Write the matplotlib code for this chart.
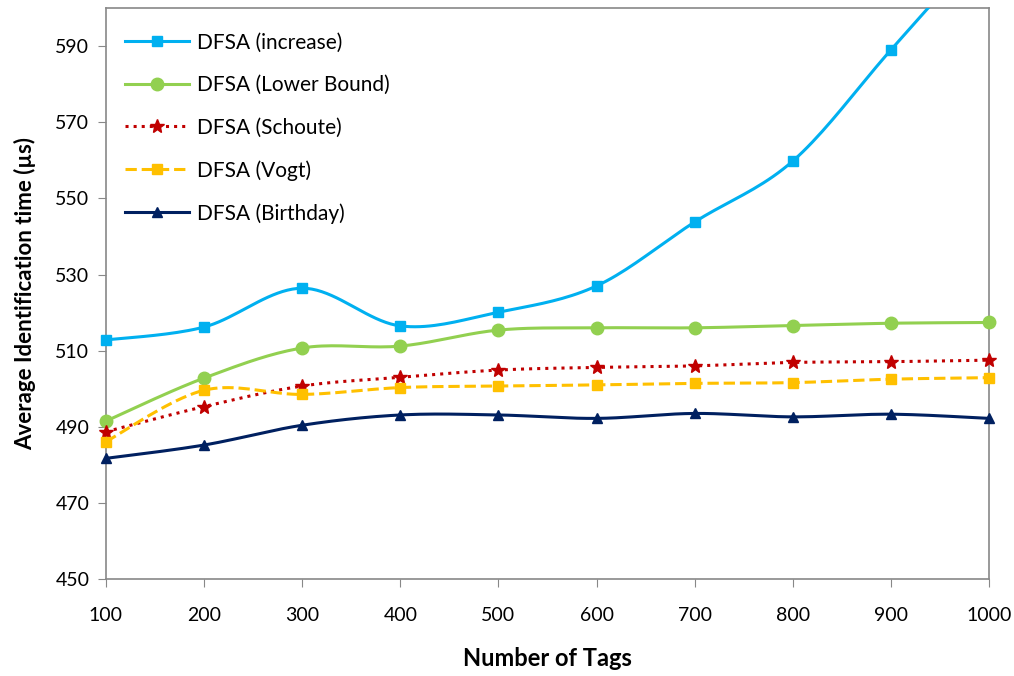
import numpy as np
import matplotlib
matplotlib.use("Agg")
import matplotlib.pyplot as plt
from matplotlib.lines import Line2D

tags = [100, 200, 300, 400, 500, 600, 700, 800, 900, 1000]
dfsa_increase = [512.8, 516.2, 526.4, 516.5, 520.1, 527.0, 543.8, 559.8, 589.0, 618.0]
dfsa_lower = [491.5, 502.8, 510.7, 511.2, 515.4, 516.0, 516.0, 516.6, 517.2, 517.4]
dfsa_schoute = [488.7, 495.3, 500.7, 503.0, 504.9, 505.6, 506.0, 506.9, 507.1, 507.5]
dfsa_vogt = [486.1, 499.6, 498.5, 500.3, 500.7, 501.0, 501.4, 501.6, 502.5, 502.9]
dfsa_birthday = [481.7, 485.2, 490.4, 493.1, 493.1, 492.2, 493.5, 492.6, 493.3, 492.2]

plt.rcParams['font.family'] = ['Lato', 'DejaVu Sans']

N_SEG = 20


def smooth(xs, ys, n=N_SEG):
    # Excel-style smoothed line (Catmull-Rom through the points)
    p = np.column_stack([xs, ys]).astype(float)
    p = np.vstack([p[0], p, p[-1]])
    out = []
    t = np.linspace(0, 1, n, endpoint=False)[:, None]
    for i in range(1, len(p) - 2):
        p0, p1, p2, p3 = p[i - 1], p[i], p[i + 1], p[i + 2]
        c1 = p1 + (p2 - p0) / 6
        c2 = p2 - (p3 - p1) / 6
        seg = ((1 - t) ** 3) * p1 + 3 * ((1 - t) ** 2) * t * c1 + 3 * (1 - t) * t ** 2 * c2 + t ** 3 * p2
        out.append(seg)
    out.append(p[-2][None, :])
    s = np.vstack(out)
    return s[:, 0], s[:, 1]


fig = plt.figure(figsize=(10.14, 6.76), dpi=100)
ax = fig.add_axes([0.1045, 0.1435, 0.8708, 0.8445])

series = [
    ("DFSA (increase)", dfsa_increase, "#00B0F0", "-", "s", 7),
    ("DFSA (Lower Bound)", dfsa_lower, "#92D050", "-", "o", 9),
    ("DFSA (Schoute)", dfsa_schoute, "#C00000", ":", "*", 10),
    ("DFSA (Vogt)", dfsa_vogt, "#FFC000", "--", "s", 7),
    ("DFSA (Birthday)", dfsa_birthday, "#002060", "-", "^", 7),
]

ymin, ymax = 450, 600
handles = []
for label, ys, color, ls, mk, ms in series:
    sx, sy = smooth(tags, ys)
    ax.plot(sx, sy, color=color, linestyle=ls, linewidth=2.2, zorder=3)
    xs_in = [x for x, y in zip(tags, ys) if ymin <= y <= ymax]
    ys_in = [y for y in ys if ymin <= y <= ymax]
    ax.plot(xs_in, ys_in, linestyle='none', marker=mk, markersize=ms,
            color=color, clip_on=False, zorder=4)
    handles.append(Line2D([], [], color=color, linestyle=ls, linewidth=2.2,
                          marker=mk, markersize=ms, label=label))

ax.set_xlim(100, 1000)
ax.set_ylim(ymin, ymax)
ax.set_xticks(tags)
ax.set_yticks(np.arange(450, 600, 20))
ax.tick_params(axis='both', labelsize=14, color='#888888', length=6, direction='out')
ax.tick_params(axis='x', pad=14)
ax.tick_params(axis='y', pad=6)
for sp in ax.spines.values():
    sp.set_color('#888888')
    sp.set_linewidth(1.2)

ax.set_xlabel("Number of Tags", fontsize=17, fontweight='bold', labelpad=17)
ax.set_ylabel("Average Identification time (µs)", fontsize=16, fontweight='bold', labelpad=14)

ax.legend(handles=handles, loc='upper left', frameon=False, fontsize=15,
          handlelength=3.1, handletextpad=0.35, labelspacing=1.08,
          bbox_to_anchor=(0.0, 0.99))

fig.savefig("out.png", dpi=100)
